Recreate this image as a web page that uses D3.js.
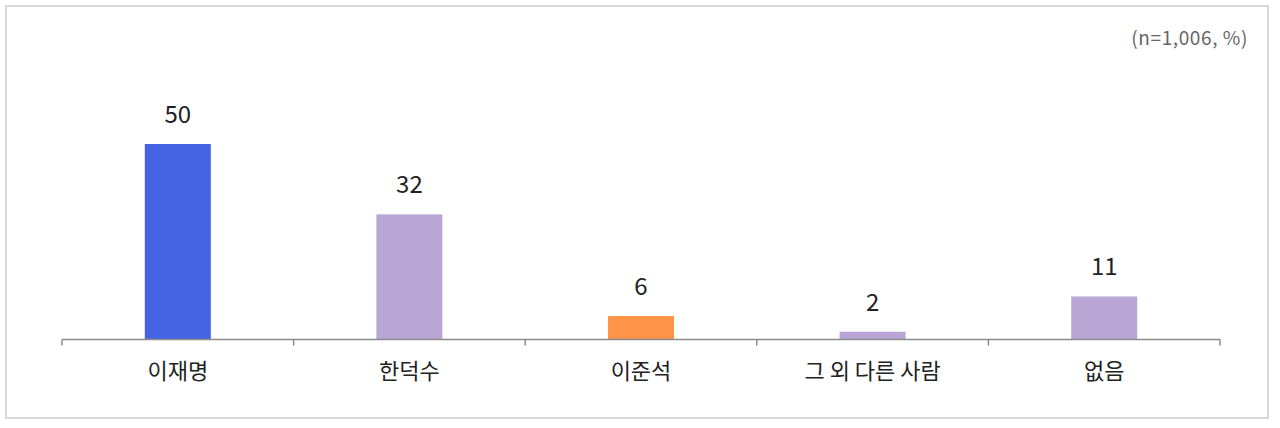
<!DOCTYPE html>
<html>
<head>
<meta charset="utf-8">
<script src="https://cdn.jsdelivr.net/npm/d3@7"></script>
<style>
  html, body { margin: 0; padding: 0; background: #fff; }
  svg { display: block; font-family: "Noto Sans CJK KR", "Noto Sans", sans-serif; }
</style>
</head>
<body>
<div id="chart"></div>
<script>
var categories = ['이재명', '한덕수', '이준석', '그 외 다른 사람', '없음'];
var values = [50, 32, 6, 2, 11];
var barColors = ['#4464e4', '#b9a6d5', '#ff9447', '#b9a6d5', '#b9a6d5'];
var noteText = '(n=1,006, %)';

var width = 1280, height = 428;

var svg = d3.select('#chart').append('svg')
    .attr('width', width)
    .attr('height', height);

// outer frame
svg.append('rect')
    .attr('x', 6).attr('y', 6)
    .attr('width', 1262).attr('height', 412)
    .attr('fill', '#fff')
    .attr('stroke', '#d9d9d9')
    .attr('stroke-width', 2);

var x = d3.scaleBand()
    .domain(categories)
    .range([62, 1220])
    .paddingInner(0.715)
    .paddingOuter(0.3575);

var y = d3.scaleLinear()
    .domain([0, 60])
    .range([339.5, 104.9]);

// bars
svg.append('g').selectAll('rect')
    .data(categories)
    .enter().append('rect')
    .attr('x', function(d) { return x(d); })
    .attr('y', function(d, i) { return y(values[i]); })
    .attr('width', x.bandwidth())
    .attr('height', function(d, i) { return y(0) - y(values[i]); })
    .attr('fill', function(d, i) { return barColors[i]; });

// value labels
svg.append('g').selectAll('text')
    .data(categories)
    .enter().append('text')
    .attr('x', function(d) { return x(d) + x.bandwidth() / 2; })
    .attr('y', function(d, i) { return y(values[i]) - 21; })
    .attr('text-anchor', 'middle')
    .attr('font-size', 24)
    .attr('fill', '#222')
    .text(function(d, i) { return values[i]; });

// x axis with ticks between categories
var axisG = svg.append('g');
axisG.append('line')
    .attr('x1', x.range()[0]).attr('x2', x.range()[1])
    .attr('y1', y(0)).attr('y2', y(0))
    .attr('stroke', '#8c8c8c')
    .attr('stroke-width', 1.5);

var step = x.step();
var tickPos = d3.range(categories.length + 1).map(function(i) { return x.range()[0] + i * step; });
axisG.selectAll('line.tick')
    .data(tickPos)
    .enter().append('line')
    .attr('class', 'tick')
    .attr('x1', function(d) { return d; }).attr('x2', function(d) { return d; })
    .attr('y1', y(0)).attr('y2', y(0) + 6)
    .attr('stroke', '#8c8c8c')
    .attr('stroke-width', 1.5);

axisG.selectAll('text')
    .data(categories)
    .enter().append('text')
    .attr('x', function(d) { return x(d) + x.bandwidth() / 2; })
    .attr('y', 379)
    .attr('text-anchor', 'middle')
    .attr('font-size', 22)
    .attr('fill', '#222')
    .text(function(d) { return d; });

// sample note
svg.append('text')
    .attr('x', 1248)
    .attr('y', 45)
    .attr('text-anchor', 'end')
    .attr('font-size', 19)
    .attr('letter-spacing', 0.6)
    .attr('fill', '#666')
    .text(noteText);
</script>
</body>
</html>
